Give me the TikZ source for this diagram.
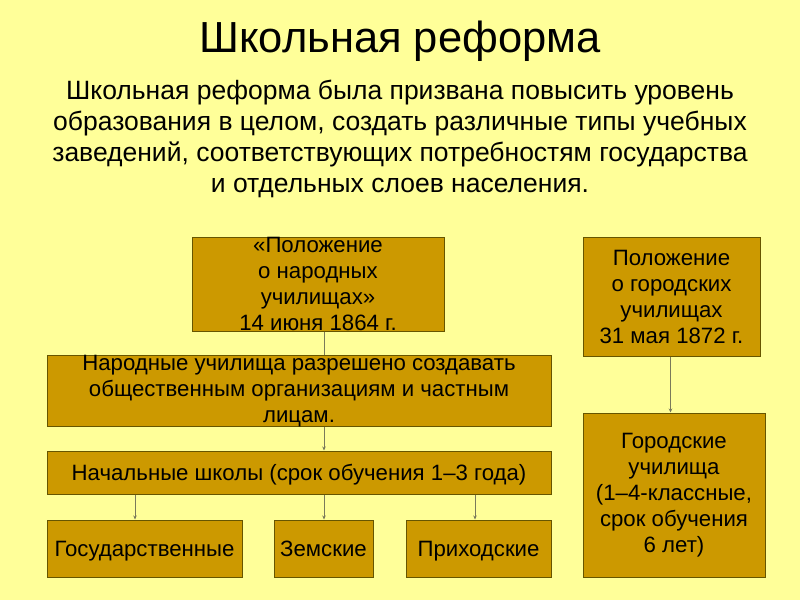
\documentclass[tikz,border=0pt]{standalone}
\usepackage{fontspec}
\setmainfont{Liberation Sans}
\usetikzlibrary{arrows.meta}
\definecolor{bg}{HTML}{FFFF99}
\definecolor{boxfill}{HTML}{CC9900}
\definecolor{boxline}{HTML}{665500}
\definecolor{connc}{HTML}{7A7A5A}
\begin{document}
\begin{tikzpicture}[x=1pt,y=-1pt,
  box/.style={draw=boxline, fill=boxfill, line width=1pt, inner sep=0pt, align=center,
    font=\fontsize{22.2}{26}\selectfont},
  onebox/.style={box, text height=16pt, text depth=0pt},
  link/.style={draw=connc, line width=0.9pt},
  arrowlink/.style={link, -{Stealth[length=4pt,width=3.5pt]}}]
\fill[bg] (0,0) rectangle (800,600);
\useasboundingbox (0,0) rectangle (800,600);

\node[font=\fontsize{43.5}{50}\selectfont, anchor=base] (title) at (400,52) {Школьная реформа};
\node[align=center, font=\fontsize{26.5}{31}\selectfont] (intro) at (400,139)
  {Школьная реформа была призвана повысить уровень\\
   образования в целом, создать различные типы учебных\\
   заведений, соответствующих потребностям государства\\
   и отдельных слоев населения.};

\node[box, minimum width=252, minimum height=94] (a) at (318,284)
  {«Положение\\о народных\\училищах»\\14 июня 1864 г.};
\node[box, minimum width=504, minimum height=70] (b) at (299,391)
  {Народные училища разрешено создавать\\общественным организациям и частным\\лицам.};
\node[onebox, minimum width=504, minimum height=43] (c) at (299,472.5)
  {Начальные школы (срок обучения 1–3 года)};
\node[onebox, minimum width=195, minimum height=57] (d) at (144.5,548.5) {Государственные};
\node[onebox, minimum width=99, minimum height=57] (e) at (323.5,548.5) {Земские};
\node[onebox, minimum width=145, minimum height=57] (f) at (478.5,548.5) {Приходские};
\node[box, minimum width=177, minimum height=119] (g) at (671.5,296.5)
  {Положение\\о городских\\училищах\\31 мая 1872 г.};
\node[box, minimum width=182, minimum height=164] (h) at (674,495)
  {Городские\\училища\\(1–4-классные,\\срок обучения\\6 лет)};

\coordinate (xm) at (324,0);
\coordinate (xd) at (135,0);
\coordinate (xf) at (475,0);
\coordinate (xg) at (670.5,0);

\draw[link] (a.south -| xm) -- (b.north -| xm);
\draw[arrowlink] (b.south -| xm) -- (c.north -| xm);
\draw[arrowlink] (c.south -| xd) -- (d.north -| xd);
\draw[arrowlink] (c.south -| xm) -- (e.north -| xm);
\draw[arrowlink] (c.south -| xf) -- (f.north -| xf);
\draw[arrowlink] (g.south -| xg) -- (h.north -| xg);
\end{tikzpicture}
\end{document}
